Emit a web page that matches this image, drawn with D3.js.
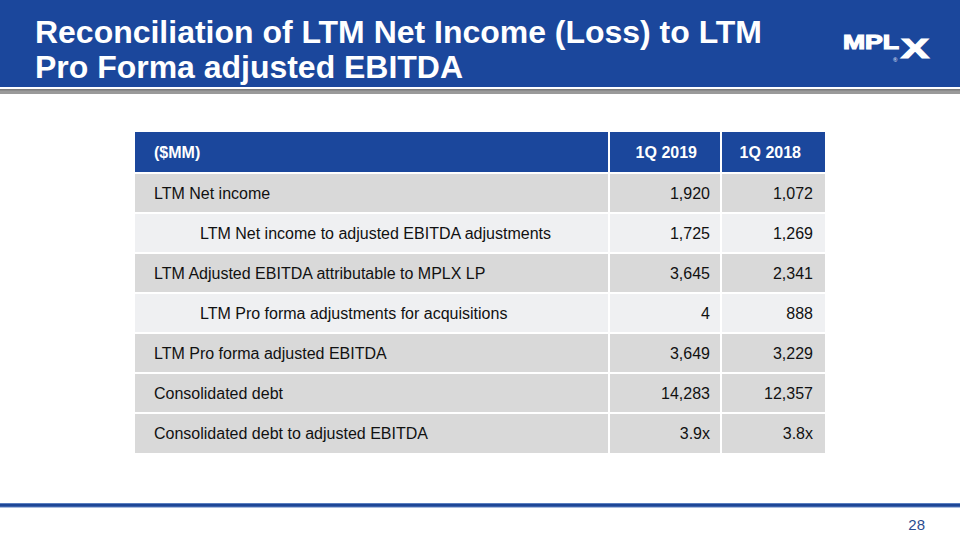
<!DOCTYPE html>
<html>
<head>
<meta charset="utf-8">
<script src="https://cdn.jsdelivr.net/npm/d3@7"></script>
<style>
  html, body { margin: 0; padding: 0; background: #fff; }
  svg { display: block; font-family: Arial, "Liberation Sans", sans-serif; }
</style>
</head>
<body>
<div id="slide"></div>
<script>
// table data
const titleLines = ["Reconciliation of LTM Net Income (Loss) to LTM", "Pro Forma adjusted EBITDA"];
const unitLabel = "($MM)";
const periods = ["1Q 2019", "1Q 2018"];
const rowLabels = [
  "LTM Net income",
  "LTM Net income to adjusted EBITDA adjustments",
  "LTM Adjusted EBITDA attributable to MPLX LP",
  "LTM Pro forma adjustments for acquisitions",
  "LTM Pro forma adjusted EBITDA",
  "Consolidated debt",
  "Consolidated debt to adjusted EBITDA"
];
const rowIndent = [0, 1, 0, 1, 0, 0, 0];
const rowKind = ["num", "num", "num", "num", "num", "num", "ratio"];
const values2019 = [1920, 1725, 3645, 4, 3649, 14283, 3.9];
const values2018 = [1072, 1269, 2341, 888, 3229, 12357, 3.8];
const pageNumber = "28";

const W = 960, H = 540;
const blue = "#1b479c";
const fs = 16;

const svg = d3.select("#slide").append("svg")
    .attr("width", W)
    .attr("height", H)
    .attr("viewBox", `0 0 ${W} ${H}`);

// header band
svg.append("rect").attr("x", 0).attr("y", 0).attr("width", W).attr("height", 87).attr("fill", blue);
svg.append("rect").attr("x", 0).attr("y", 89).attr("width", W).attr("height", 5).attr("fill", "#9a9a9a");
svg.append("rect").attr("x", 0).attr("y", 89).attr("width", W).attr("height", 1.5).attr("fill", "#7d7d7d");

const titleWidths = [727, 428];
svg.selectAll("text.title")
  .data(titleLines)
  .join("text")
    .attr("class", "title")
    .attr("x", 35)
    .attr("y", (d, i) => 43 + i * 35)
    .attr("fill", "#fff")
    .attr("font-size", 31)
    .attr("font-weight", "bold")
    .attr("textLength", (d, i) => titleWidths[i])
    .attr("lengthAdjust", "spacingAndGlyphs")
    .text(d => d);

// logo (approximation)
const logo = svg.append("g").attr("fill", "#fff").attr("stroke", "#fff").attr("font-weight", "bold");
logo.append("text").attr("x", 843).attr("y", 49).attr("font-size", 21).attr("stroke-width", 1.2)
    .attr("textLength", 56).attr("lengthAdjust", "spacingAndGlyphs").text("MPL");
logo.append("text").attr("x", 901).attr("y", 58).attr("font-size", 27).attr("stroke-width", 1.2)
    .attr("textLength", 28).attr("lengthAdjust", "spacingAndGlyphs").text("X");
logo.append("text").attr("x", 893).attr("y", 62).attr("font-size", 6).attr("stroke", "none")
    .attr("fill", "#c8d3ea").text("®");

// table
const tableX = 135, tableRight = 825;
const colEdges = [tableX, 609, 721, tableRight];
const headerTop = 132, headerBottom = 173, tableBottom = 453;

const rowIdx = d3.range(rowLabels.length);
const y = d3.scaleBand()
    .domain(rowIdx)
    .range([headerBottom, tableBottom])
    .paddingInner(0);

const fmtNum = d3.format(",");
const fmtRatio = v => d3.format(".1f")(v) + "x";
const fmt = (v, i) => rowKind[i] === "ratio" ? fmtRatio(v) : fmtNum(v);

// header row
svg.append("rect")
    .attr("x", tableX).attr("y", headerTop)
    .attr("width", tableRight - tableX).attr("height", headerBottom - headerTop)
    .attr("fill", blue);

const headerMid = (headerTop + headerBottom) / 2;
svg.append("text")
    .attr("x", 154).attr("y", headerMid)
    .attr("dy", "0.36em")
    .attr("fill", "#fff").attr("font-size", fs).attr("font-weight", "bold")
    .text(unitLabel);

svg.selectAll("text.period")
  .data(periods)
  .join("text")
    .attr("class", "period")
    .attr("x", (d, i) => colEdges[i + 2] - 24)
    .attr("y", headerMid)
    .attr("dy", "0.36em")
    .attr("text-anchor", "end")
    .attr("fill", "#fff").attr("font-size", fs).attr("font-weight", "bold")
    .text(d => d);

// body rows
const rows = svg.selectAll("g.row")
  .data(rowIdx)
  .join("g")
    .attr("class", "row")
    .attr("transform", i => `translate(0,${y(i)})`);

rows.append("rect")
    .attr("x", tableX)
    .attr("width", tableRight - tableX)
    .attr("height", y.bandwidth())
    .attr("fill", i => rowIndent[i] ? "#eff0f2" : "#d9d9d9");

rows.append("text")
    .attr("x", i => rowIndent[i] ? 200 : 154)
    .attr("y", y.bandwidth() / 2)
    .attr("dy", "0.36em")
    .attr("fill", "#111").attr("font-size", fs)
    .text(i => rowLabels[i]);

rows.append("text")
    .attr("x", colEdges[2] - 11)
    .attr("y", y.bandwidth() / 2)
    .attr("dy", "0.36em")
    .attr("text-anchor", "end")
    .attr("fill", "#111").attr("font-size", fs)
    .text(i => fmt(values2019[i], i));

rows.append("text")
    .attr("x", colEdges[3] - 12)
    .attr("y", y.bandwidth() / 2)
    .attr("dy", "0.36em")
    .attr("text-anchor", "end")
    .attr("fill", "#111").attr("font-size", fs)
    .text(i => fmt(values2018[i], i));

// white grid lines
const grid = svg.append("g").attr("stroke", "#fff").attr("stroke-width", 2);
grid.selectAll("line.h")
  .data(rowIdx)
  .join("line")
    .attr("x1", tableX).attr("x2", tableRight)
    .attr("y1", i => y(i)).attr("y2", i => y(i));
grid.selectAll("line.v")
  .data(colEdges.slice(1, 3))
  .join("line")
    .attr("x1", d => d).attr("x2", d => d)
    .attr("y1", headerTop).attr("y2", tableBottom);

// footer line + page number
svg.append("rect").attr("x", 0).attr("y", 503).attr("width", W).attr("height", 4.5).attr("fill", "#5a7fc0");
svg.append("rect").attr("x", 0).attr("y", 504).attr("width", W).attr("height", 2.5).attr("fill", "#1d4696");

svg.append("text")
    .attr("x", 925).attr("y", 530)
    .attr("text-anchor", "end")
    .attr("fill", "#2a4c8f").attr("font-size", 15)
    .text(pageNumber);
</script>
</body>
</html>
